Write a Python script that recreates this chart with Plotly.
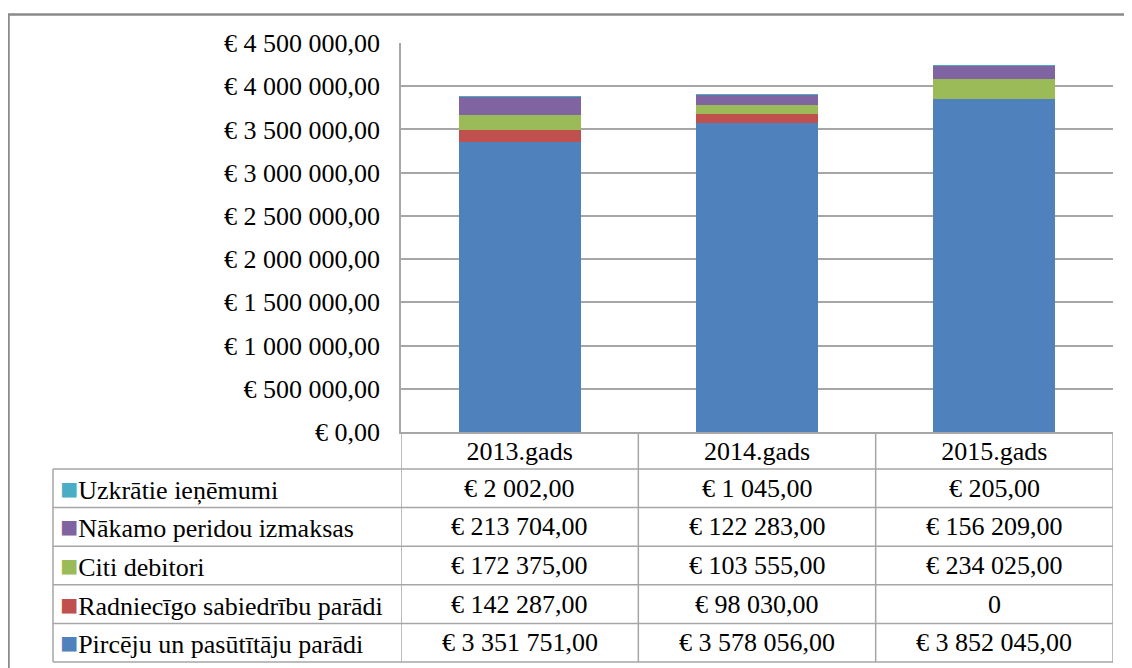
import plotly.graph_objects as go

# ---------------- data ----------------
years = ["2013.gads", "2014.gads", "2015.gads"]
pirceju = [3351751, 3578056, 3852045]
radniecigo = [142287, 98030, 0]
citi = [172375, 103555, 234025]
nakamo = [213704, 122283, 156209]
uzkratie = [2002, 1045, 205]

series_names = [
    "Pircēju un pasūtītāju parādi",
    "Radniecīgo sabiedrību parādi",
    "Citi debitori",
    "Nākamo peridou izmaksas",
    "Uzkrātie ieņēmumi",
]
series_values = [pirceju, radniecigo, citi, nakamo, uzkratie]
series_colors = ["#4f81bd", "#c0504d", "#9bbb59", "#8064a2", "#4bacc6"]

# ---------------- layout constants ----------------
W, H = 1132, 668
OFF = 8  # page body margin offset
FONT = "Liberation Serif, Times New Roman, serif"
FS_TICK = 26
FS_TAB = 26
GRID = "#a6a6a6"
plot_l, plot_r, plot_t, plot_b = 401, 1113, 43, 432
table_left = 53
header_h = 37
row_h = 38.6


def px(xp):
    return (xp - OFF) / W


def py(yp):
    return 1 - (yp - OFF) / H


def eur(v):
    if v == 0:
        return "0"
    s = f"{v:,.2f}".replace(",", " ").replace(".", ",")
    return "€ " + s


fig = go.Figure()
for name, vals, col in zip(series_names, series_values, series_colors):
    fig.add_trace(go.Bar(
        x=years, y=vals, name=name,
        marker=dict(color=col, line=dict(width=0)),
        showlegend=False,
    ))

shapes = []
annotations = []

row_top = plot_b + header_h
n_rows = len(series_names)
table_bottom = row_top + n_rows * row_h
line_style = dict(color=GRID, width=1.5)

# vertical lines of the data table (column boundaries on the category axis)
for b in [-0.5, 0.5, 1.5, 2.5]:
    shapes.append(dict(type="line", xref="x", yref="paper",
                       x0=b, x1=b, y0=py(plot_b), y1=py(table_bottom),
                       line=line_style, layer="above"))
# left edge of label column
shapes.append(dict(type="line", xref="paper", yref="paper",
                   x0=px(table_left), x1=px(table_left),
                   y0=py(row_top), y1=py(table_bottom),
                   line=line_style))
# horizontal lines
for i in range(n_rows + 1):
    yy = row_top + i * row_h
    shapes.append(dict(type="line", xref="paper", yref="paper",
                       x0=px(table_left), x1=px(plot_r),
                       y0=py(yy), y1=py(yy), line=line_style))
# outer chart border
shapes.append(dict(type="rect", xref="paper", yref="paper",
                   x0=px(8.5), x1=1.05, y0=-0.05, y1=py(14.5),
                   line=dict(color="#8a8a8a", width=2.5)))

# table rows: top row is the last series (legend order reversed)
for i, idx in enumerate(reversed(range(n_rows))):
    yc = row_top + (i + 0.5) * row_h
    annotations.append(dict(
        xref="paper", yref="paper", x=px(58), y=py(yc),
        xanchor="left", yanchor="middle", showarrow=False,
        text=f'<span style="color:{series_colors[idx]};font-size:30px">■</span>'
             f'{series_names[idx]}',
        font=dict(family=FONT, size=FS_TAB, color="black"),
    ))
    for j, yr in enumerate(years):
        annotations.append(dict(
            xref="x", yref="paper", x=yr, y=py(yc),
            xanchor="center", yanchor="middle", showarrow=False,
            text=eur(series_values[idx][j]),
            font=dict(family=FONT, size=FS_TAB, color="black"),
        ))

fig.update_layout(
    width=W, height=H, autosize=False,
    margin=dict(l=0, r=0, t=0, b=0, autoexpand=False),
    paper_bgcolor="white", plot_bgcolor="white",
    barmode="stack", bargap=0.486,
    separators=", ",
    font=dict(family=FONT, size=FS_TICK, color="black"),
    xaxis=dict(
        domain=[px(plot_l), px(plot_r)],
        type="category", range=[-0.5, 2.5], automargin=False,
        showgrid=False, showline=True, linecolor=GRID, linewidth=1.5,
        ticks="", ticklabelstandoff=-5,
        tickfont=dict(family=FONT, size=FS_TAB, color="black"),
    ),
    yaxis=dict(
        domain=[py(plot_b), py(plot_t)], automargin=False,
        range=[0, 4500000], dtick=500000,
        tickprefix="€ ", tickformat=",.2f",
        showgrid=True, gridcolor=GRID, gridwidth=1.5,
        showline=True, linecolor=GRID, linewidth=1.5,
        zeroline=False,
        ticks="outside", ticklen=14, tickcolor="rgba(0,0,0,0)",
        tickfont=dict(family=FONT, size=FS_TICK, color="black"),
    ),
    shapes=shapes,
    annotations=annotations,
)

fig.write_html("out.html")
